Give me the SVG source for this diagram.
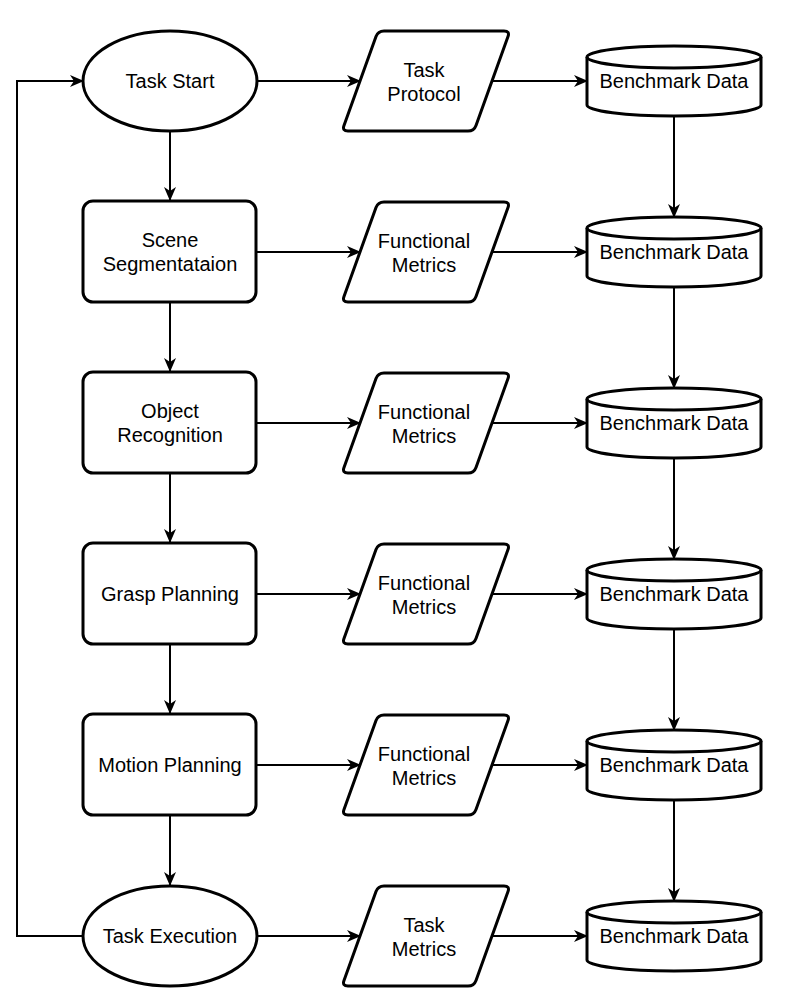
<svg xmlns="http://www.w3.org/2000/svg" xmlns:xlink="http://www.w3.org/1999/xlink" width="806" height="1002" viewBox="0 0 806 1002">
<style>
.s{fill:#fff;stroke:#000;stroke-width:3}
.c{fill:none;stroke:#000;stroke-width:2}
.t{font-family:"Liberation Sans",Arial,sans-serif;font-size:20px;fill:#000;text-anchor:middle}
</style>
<defs>
<marker id="a" viewBox="0 0 14 12" refX="13" refY="6" markerWidth="14" markerHeight="12" markerUnits="userSpaceOnUse" orient="auto">
<path d="M0,0 L14,6 L0,12 L4,6 Z" fill="#000"/>
</marker>
<path id="para" class="s" d="M384,-50 L504,-50 Q510,-50 508,-44.4 L476,44.4 Q474,50 468,50 L348,50 Q342,50 344,44.4 L376,-44.4 Q378,-50 384,-50 Z"/>
<g id="cyl">
<path class="s" d="M587,-24 A87,11 0 0 1 761,-24 L761,24 A87,11 0 0 1 587,24 Z"/>
<path class="s" style="fill:none" d="M587,-24 A87,11 0 0 0 761,-24"/>
</g>
</defs>
<rect width="806" height="1002" fill="#fff"/>
<g id="connectors">
<path class="c" marker-end="url(#a)" d="M83,936 L17,936 L17,81 L83,81"/>
<path class="c" marker-end="url(#a)" d="M170,131 L170,200"/>
<path class="c" marker-end="url(#a)" d="M170,302 L170,371"/>
<path class="c" marker-end="url(#a)" d="M170,473 L170,542"/>
<path class="c" marker-end="url(#a)" d="M170,644 L170,713"/>
<path class="c" marker-end="url(#a)" d="M170,815 L170,885"/>
<path class="c" marker-end="url(#a)" d="M257,81 L360,81"/>
<path class="c" marker-end="url(#a)" d="M256,252 L360,252"/>
<path class="c" marker-end="url(#a)" d="M256,423 L360,423"/>
<path class="c" marker-end="url(#a)" d="M256,594 L360,594"/>
<path class="c" marker-end="url(#a)" d="M256,765 L360,765"/>
<path class="c" marker-end="url(#a)" d="M257,936 L360,936"/>
<path class="c" marker-end="url(#a)" d="M492,81 L587,81"/>
<path class="c" marker-end="url(#a)" d="M492,252 L587,252"/>
<path class="c" marker-end="url(#a)" d="M492,423 L587,423"/>
<path class="c" marker-end="url(#a)" d="M492,594 L587,594"/>
<path class="c" marker-end="url(#a)" d="M492,765 L587,765"/>
<path class="c" marker-end="url(#a)" d="M492,936 L587,936"/>
<path class="c" marker-end="url(#a)" d="M674,116 L674,217"/>
<path class="c" marker-end="url(#a)" d="M674,287 L674,388"/>
<path class="c" marker-end="url(#a)" d="M674,458 L674,559"/>
<path class="c" marker-end="url(#a)" d="M674,629 L674,730"/>
<path class="c" marker-end="url(#a)" d="M674,800 L674,901"/>
</g>
<g id="task-start"><ellipse class="s" cx="170" cy="81" rx="87" ry="50"/><text class="t" x="170" y="88">Task Start</text></g>
<g id="scene-seg"><rect class="s" x="83" y="201" width="173" height="101" rx="10"/><text class="t" x="170" y="247">Scene</text><text class="t" x="170" y="271">Segmentataion</text></g>
<g id="object-rec"><rect class="s" x="83" y="372" width="173" height="101" rx="10"/><text class="t" x="170" y="418">Object</text><text class="t" x="170" y="442">Recognition</text></g>
<g id="grasp"><rect class="s" x="83" y="543" width="173" height="101" rx="10"/><text class="t" x="170" y="601">Grasp Planning</text></g>
<g id="motion"><rect class="s" x="83" y="714" width="173" height="101" rx="10"/><text class="t" x="170" y="772">Motion Planning</text></g>
<g id="task-exec"><ellipse class="s" cx="170" cy="936" rx="87" ry="50"/><text class="t" x="170" y="943">Task Execution</text></g>
<g id="p1" ><use xlink:href="#para" transform="translate(0,81)"/><text class="t" x="424" y="77">Task</text><text class="t" x="424" y="101">Protocol</text></g>
<g id="p2"><use xlink:href="#para" transform="translate(0,252)"/><text class="t" x="424" y="248">Functional</text><text class="t" x="424" y="272">Metrics</text></g>
<g id="p3"><use xlink:href="#para" transform="translate(0,423)"/><text class="t" x="424" y="419">Functional</text><text class="t" x="424" y="443">Metrics</text></g>
<g id="p4"><use xlink:href="#para" transform="translate(0,594)"/><text class="t" x="424" y="590">Functional</text><text class="t" x="424" y="614">Metrics</text></g>
<g id="p5"><use xlink:href="#para" transform="translate(0,765)"/><text class="t" x="424" y="761">Functional</text><text class="t" x="424" y="785">Metrics</text></g>
<g id="p6"><use xlink:href="#para" transform="translate(0,936)"/><text class="t" x="424" y="932">Task</text><text class="t" x="424" y="956">Metrics</text></g>
<g id="d1"><use xlink:href="#cyl" transform="translate(0,81)"/><text class="t" x="674" y="88">Benchmark Data</text></g>
<g id="d2"><use xlink:href="#cyl" transform="translate(0,252)"/><text class="t" x="674" y="259">Benchmark Data</text></g>
<g id="d3"><use xlink:href="#cyl" transform="translate(0,423)"/><text class="t" x="674" y="430">Benchmark Data</text></g>
<g id="d4"><use xlink:href="#cyl" transform="translate(0,594)"/><text class="t" x="674" y="601">Benchmark Data</text></g>
<g id="d5"><use xlink:href="#cyl" transform="translate(0,765)"/><text class="t" x="674" y="772">Benchmark Data</text></g>
<g id="d6"><use xlink:href="#cyl" transform="translate(0,936)"/><text class="t" x="674" y="943">Benchmark Data</text></g>
</svg>
